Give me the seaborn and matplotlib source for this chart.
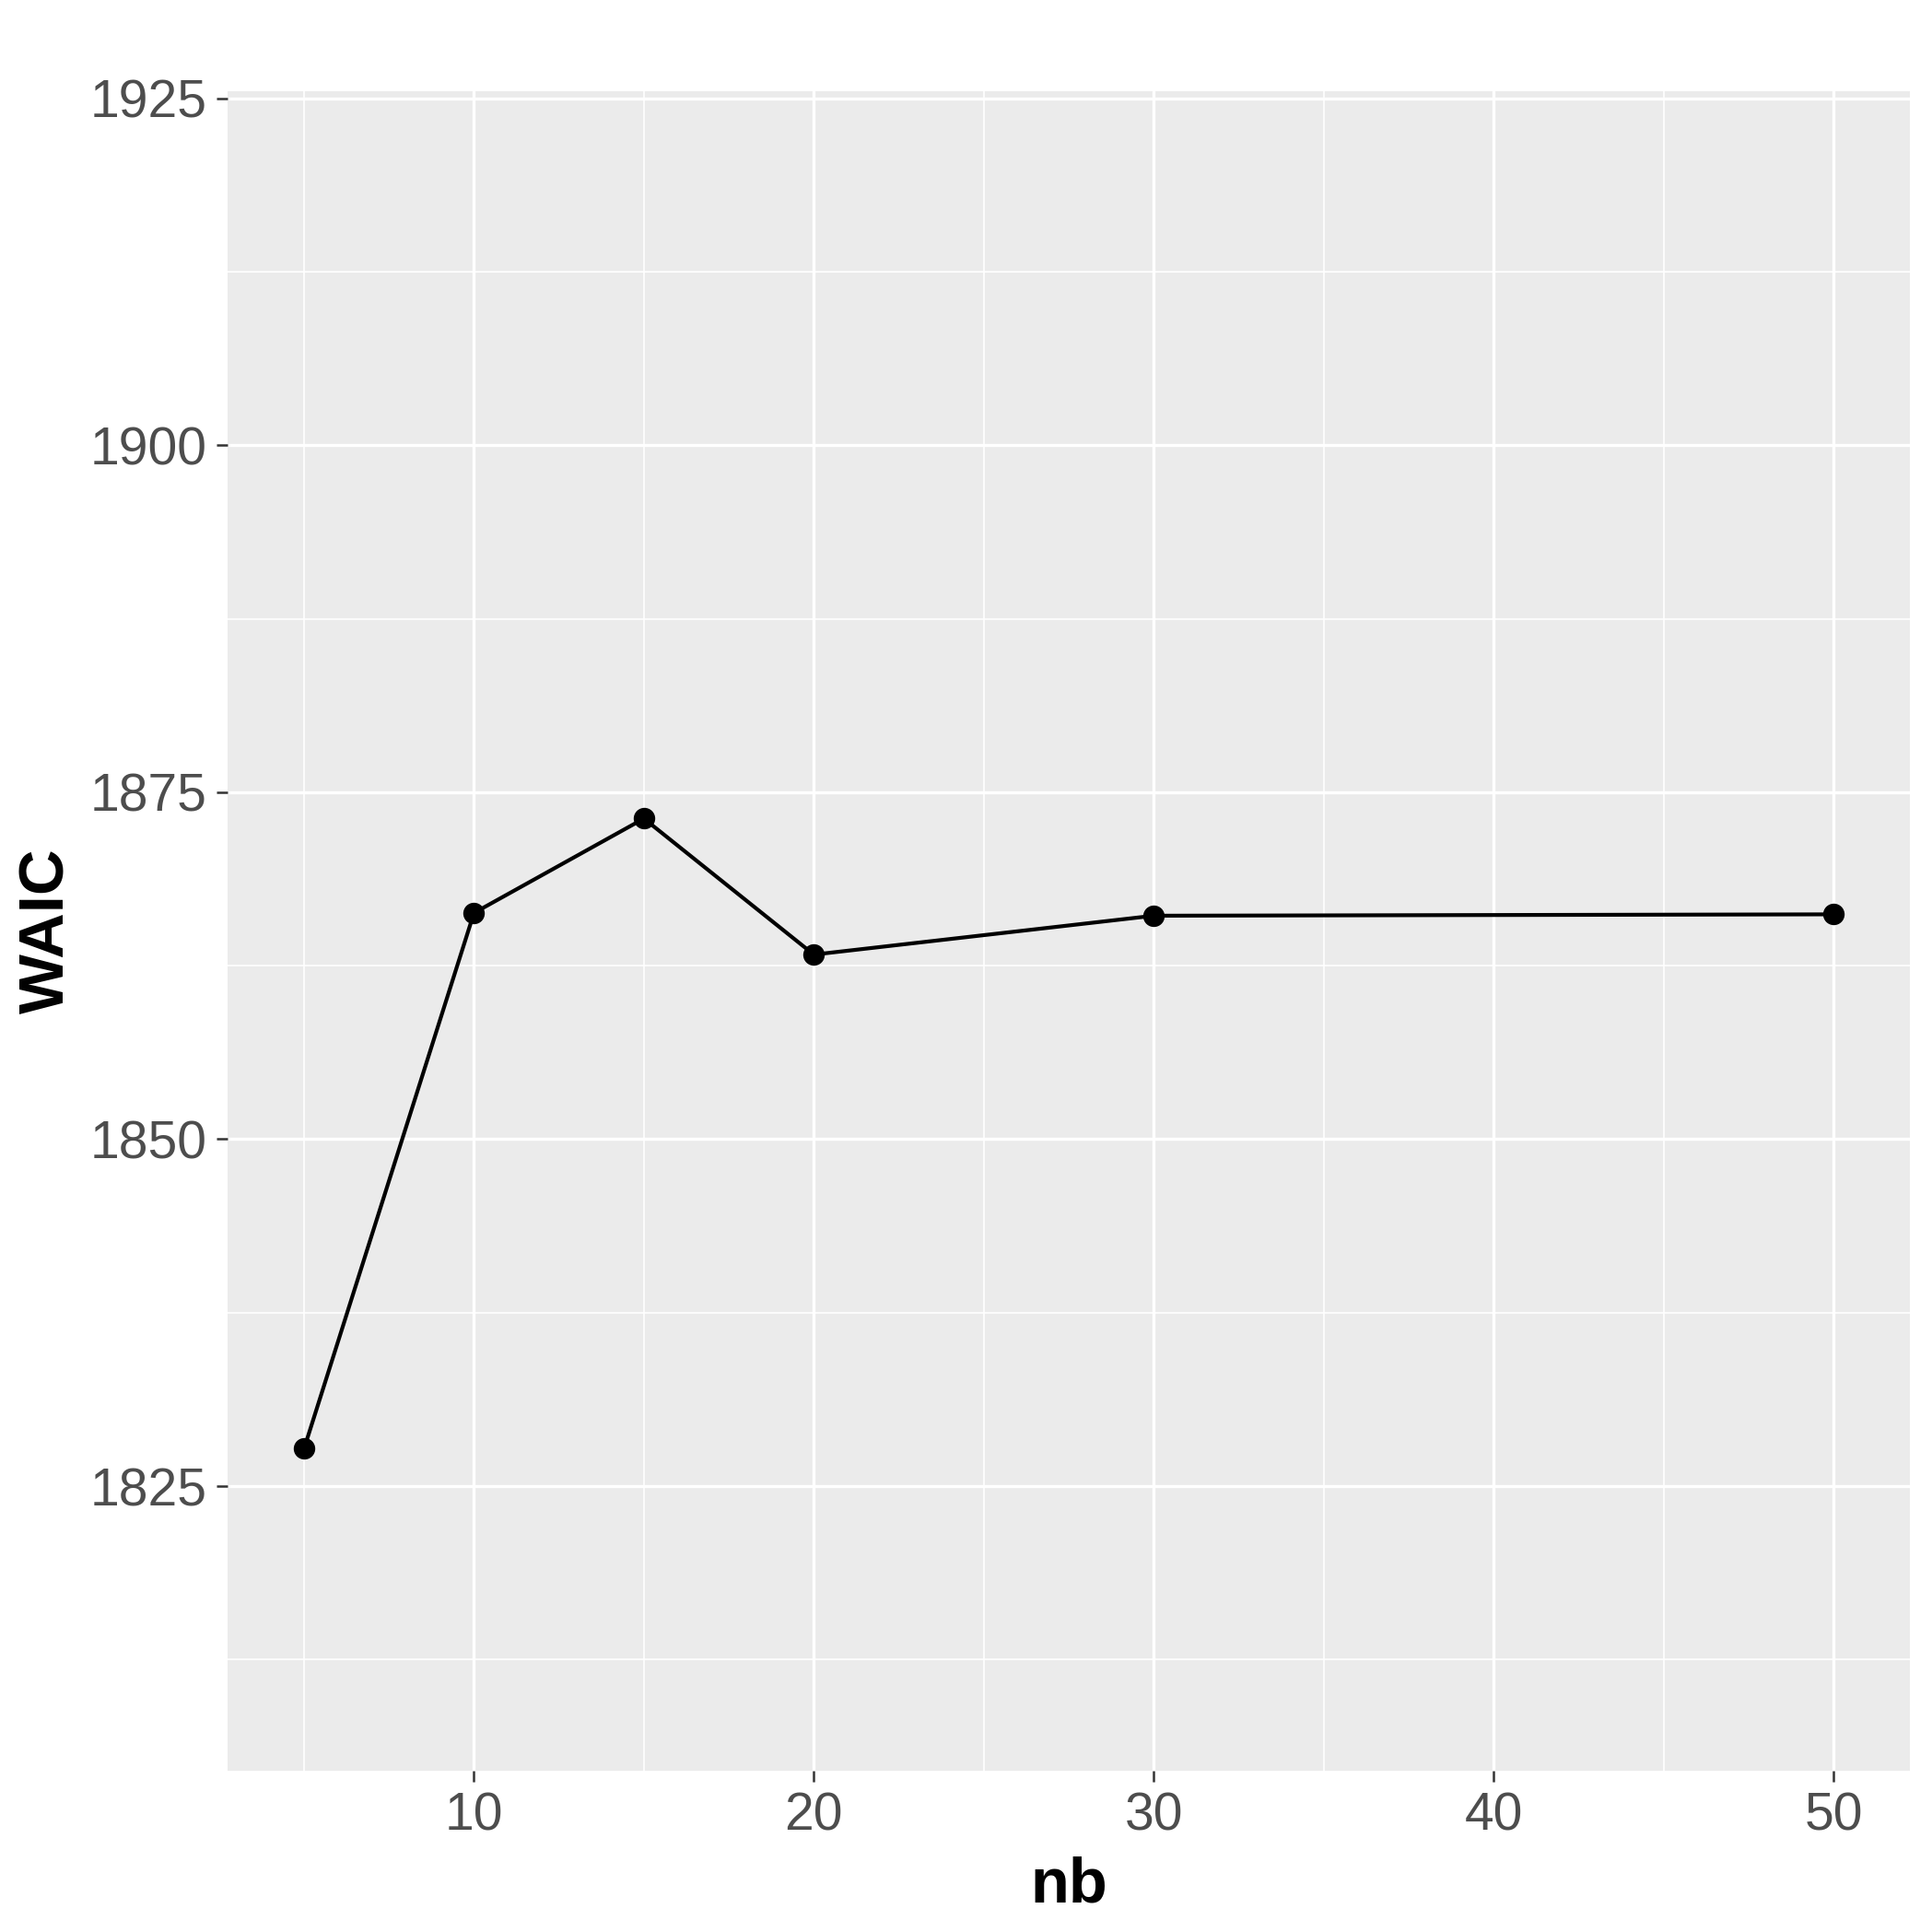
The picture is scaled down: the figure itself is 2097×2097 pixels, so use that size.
import numpy as np
import pandas as pd
import seaborn as sns
import matplotlib.pyplot as plt
from matplotlib.ticker import MultipleLocator

# values
nb = [5, 10, 15, 20, 30, 50]
waic = [1827.7, 1866.3, 1873.1, 1863.3, 1866.1, 1866.2]
x_ticks = [10, 20, 30, 40, 50]
y_ticks = [1825, 1850, 1875, 1900, 1925]

data = pd.DataFrame({'nb': nb, 'WAIC': waic})

sns.set_theme(style='darkgrid', rc={
    'axes.facecolor': '#EBEBEB',
    'grid.color': 'white',
    'axes.edgecolor': 'none',
})
plt.rcParams['font.family'] = ['Liberation Sans', 'DejaVu Sans']

fig = plt.figure(figsize=(6.99, 6.99), dpi=300)
ax = fig.add_axes([247 / 2097, 175 / 2097, (2073 - 247) / 2097, (1922 - 99) / 2097])

sns.lineplot(data=data, x='nb', y='WAIC', color='black', linewidth=1.0,
             marker='o', markersize=5.6, markeredgewidth=0, ax=ax, zorder=3)

ax.set_xlim(2.75, 52.25)
ax.set_ylim(1804.5, 1925.5)
ax.set_xticks(x_ticks)
ax.set_yticks(y_ticks)
ax.xaxis.set_minor_locator(MultipleLocator(5))
ax.yaxis.set_minor_locator(MultipleLocator(12.5))
ax.grid(which='major', color='white', linewidth=0.8)
ax.grid(which='minor', color='white', linewidth=0.4)
ax.set_axisbelow(True)

ax.tick_params(axis='both', which='major', length=2.8, width=0.6, color='#333333',
               labelsize=13.7, labelcolor='#4D4D4D', pad=2.5, bottom=True, left=True)
ax.tick_params(axis='both', which='minor', length=0)

ax.set_xlabel('nb', fontsize=16.5, fontweight='bold', color='black', labelpad=4)
ax.set_ylabel('WAIC', fontsize=16.5, fontweight='bold', color='black', labelpad=3.5)

for s in ax.spines.values():
    s.set_visible(False)

fig.savefig('out.png', dpi=300, facecolor='white')
